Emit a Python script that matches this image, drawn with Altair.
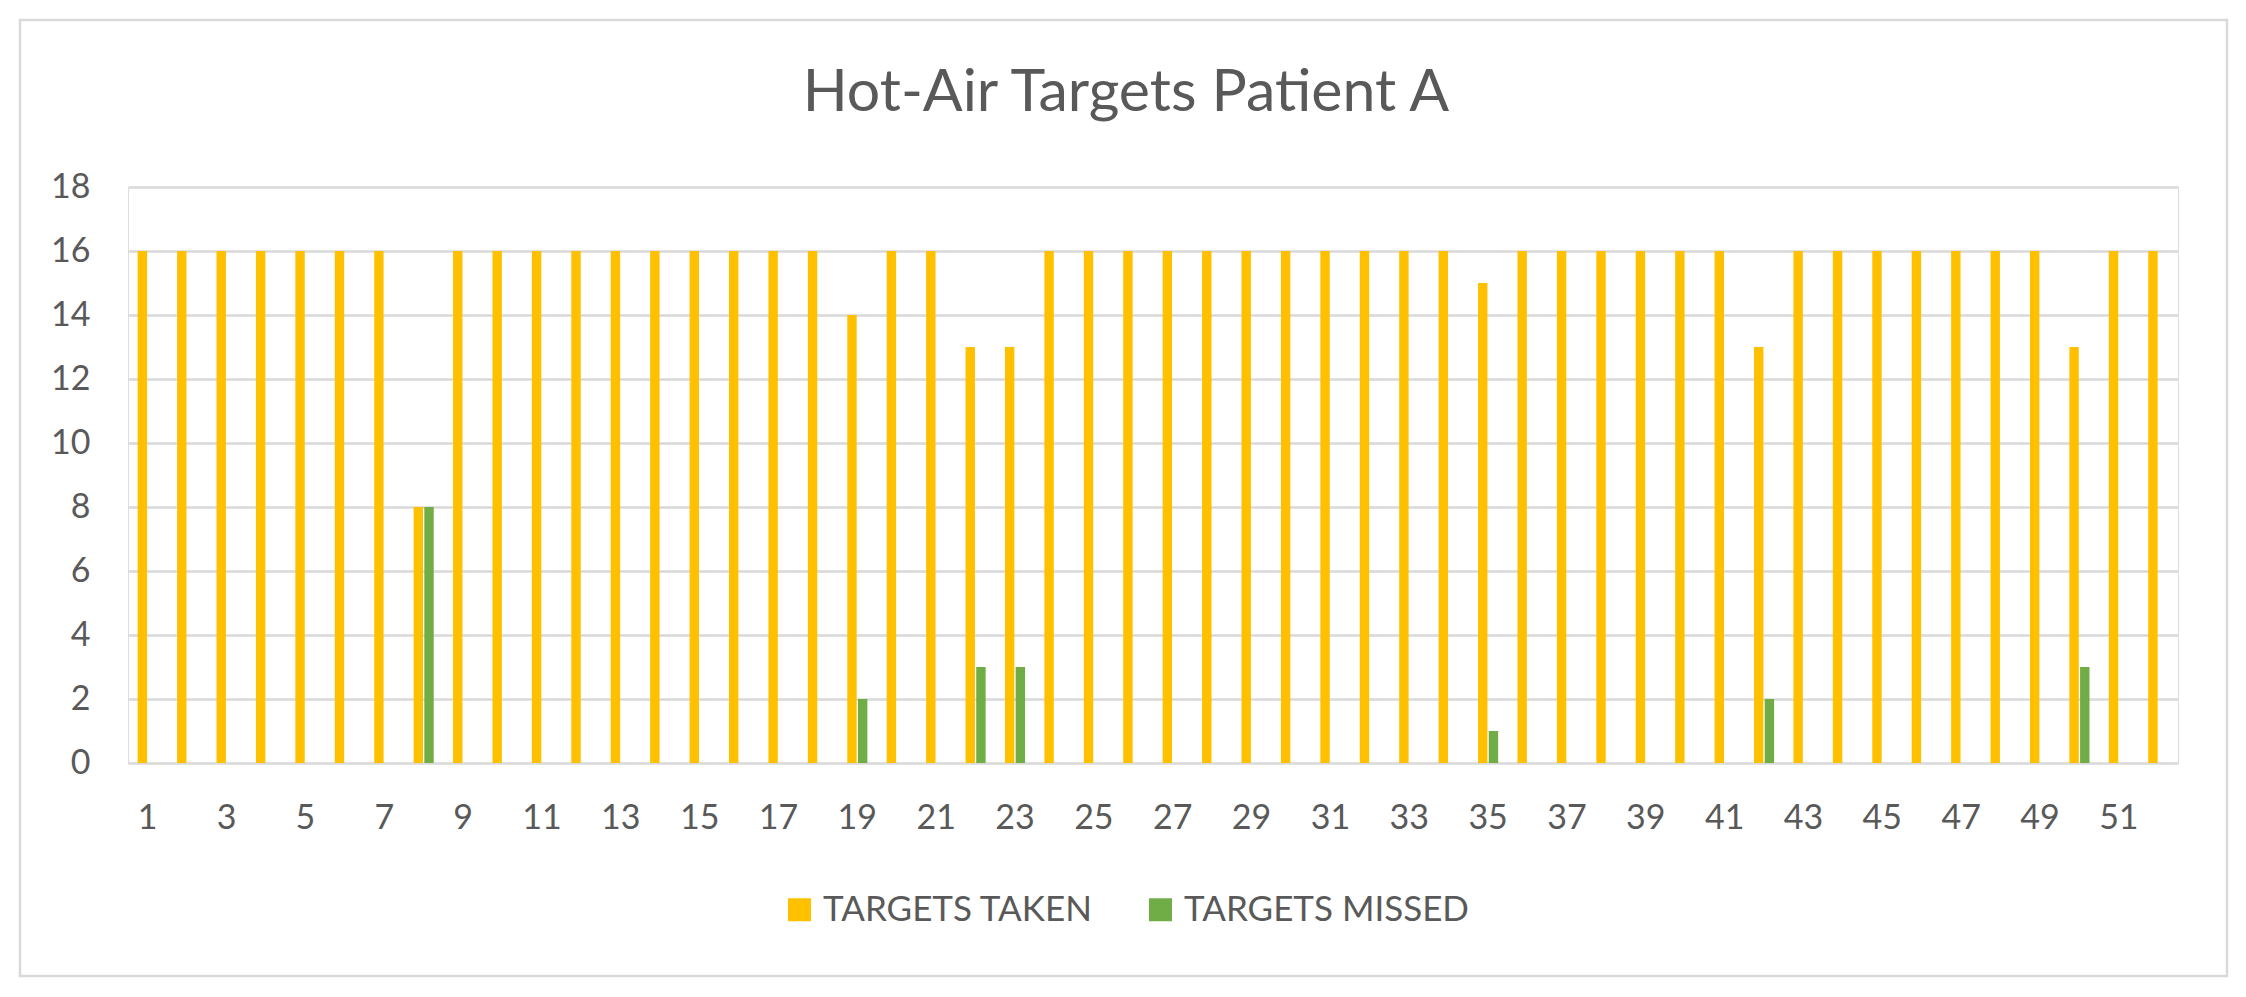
import altair as alt
import pandas as pd

# ---- data ----
weeks = list(range(1, 53))
targets_taken = [16, 16, 16, 16, 16, 16, 16, 8, 16, 16,
                 16, 16, 16, 16, 16, 16, 16, 16, 14, 16,
                 16, 13, 13, 16, 16, 16, 16, 16, 16, 16,
                 16, 16, 16, 16, 15, 16, 16, 16, 16, 16,
                 16, 13, 16, 16, 16, 16, 16, 16, 16, 13,
                 16, 16]
targets_missed = [0, 0, 0, 0, 0, 0, 0, 8, 0, 0,
                  0, 0, 0, 0, 0, 0, 0, 0, 2, 0,
                  0, 3, 3, 0, 0, 0, 0, 0, 0, 0,
                  0, 0, 0, 0, 1, 0, 0, 0, 0, 0,
                  0, 2, 0, 0, 0, 0, 0, 0, 0, 3,
                  0, 0]
series = ["TARGETS TAKEN", "TARGETS MISSED"]
colors = ["#FFC000", "#70AD47"]
y_ticks = [0, 2, 4, 6, 8, 10, 12, 14, 16, 18]
title_text = "Hot-Air Targets Patient A"

rows = []
for w, t, m in zip(weeks, targets_taken, targets_missed):
    rows.append({"week": w, "series": series[0], "value": t})
    rows.append({"week": w, "series": series[1], "value": m})
df = pd.DataFrame(rows)

TEXT = "#595959"
GRID = "#D9D9D9"
FONT = "Lato"

bars = alt.Chart(df).mark_bar().encode(
    x=alt.X(
        "week:O",
        sort=weeks,
        scale=alt.Scale(paddingInner=0.49, paddingOuter=0.245),
        axis=alt.Axis(
            title=None,
            labelExpr="datum.value % 2 == 1 ? datum.label : ''",
            labelAngle=0,
            labelOverlap=False,
            ticks=False,
            domain=False,
            grid=False,
            labelFont=FONT,
            labelFontSize=34,
            labelColor=TEXT,
            labelPadding=38,
        ),
    ),
    xOffset=alt.XOffset("series:N", sort=series, scale=alt.Scale(paddingInner=0.12)),
    y=alt.Y(
        "value:Q",
        scale=alt.Scale(domain=[0, 18], nice=False),
        axis=alt.Axis(
            title=None,
            values=y_ticks,
            ticks=False,
            domain=False,
            grid=True,
            gridColor=GRID,
            gridWidth=2.5,
            gridOpacity=1,
            labelFont=FONT,
            labelFontSize=34,
            labelColor=TEXT,
            labelPadding=38,
        ),
    ),
    color=alt.Color(
        "series:N",
        sort=series,
        scale=alt.Scale(domain=series, range=colors),
        legend=alt.Legend(
            title=None,
            orient="none",
            direction="horizontal",
            legendX=654,
            legendY=705,
            symbolType="square",
            symbolSize=529,
            symbolStrokeWidth=0,
            symbolOpacity=1,
            labelFont=FONT,
            labelFontSize=35,
            labelColor=TEXT,
            labelOffset=6,
            labelLimit=0,
            columnPadding=50,
            padding=0,
        ),
    ),
)

border = alt.Chart(pd.DataFrame({"b": [0]})).mark_rect(
    fillOpacity=0, stroke=GRID, strokeWidth=2.5
).encode(
    x=alt.value(-108), x2=alt.value(2099), y=alt.value(-167), y2=alt.value(789)
)

chart = alt.layer(border, bars).properties(
    width=2050,
    height=576,
    title=alt.Title(
        title_text,
        font=FONT,
        fontSize=59,
        fontWeight="normal",
        color=TEXT,
        anchor="middle",
        dx=-27,
        offset=-104,
    ),
    autosize=alt.AutoSizeParams(type="none"),
    padding={"left": 120, "top": 179, "right": 60, "bottom": 222},
).configure_view(stroke="transparent", strokeWidth=0).configure(background="white")

chart.save("out.html", embed_options={"renderer": "svg", "actions": False})
